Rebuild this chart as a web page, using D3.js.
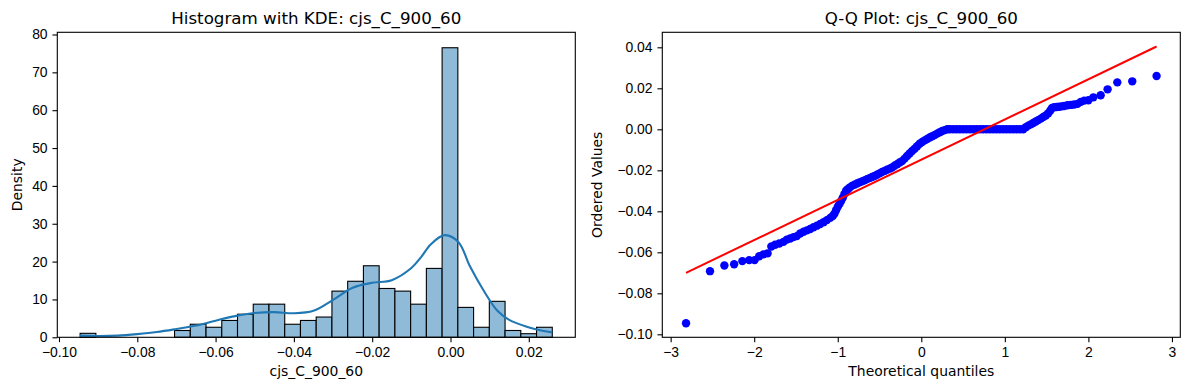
<!DOCTYPE html>
<html>
<head>
<meta charset="utf-8">
<script src="https://cdn.jsdelivr.net/npm/d3@7/dist/d3.min.js"></script>
<style>
  body { margin: 0; background: #fff; }
  svg { display: block; font-family: "DejaVu Sans", sans-serif; }
  .tick text { font-size: 13.9px; fill: #000; }
  .tick line { stroke: #000; stroke-width: 1.1px; }
</style>
</head>
<body>
<svg id="chart" width="1189" height="390"></svg>
<script>
// histogram of cjs_C_900_60: 30 equal bins between the sample min and max
const histMin = -0.0946;
const histMax = 0.0260;
const histDensity = [1.05, 0, 0, 0, 0, 0, 1.8, 3.45, 2.65, 4.45,
  6.1, 8.75, 8.75, 3.45, 4.45, 5.35, 12.2, 14.8, 18.9, 12.9,
  12.2, 8.75, 18.2, 76.5, 7.9, 2.65, 9.5, 1.8, 0.95, 2.65];

// KDE curve
const kdeX = [-0.0946, -0.090, -0.085, -0.080, -0.075, -0.070, -0.065, -0.060,
  -0.055, -0.050, -0.045, -0.040, -0.035, -0.030, -0.025, -0.020, -0.015,
  -0.010, -0.0075, -0.005, -0.0015, 0.002, 0.005, 0.0085, 0.012, 0.015,
  0.0195, 0.0235, 0.026];
const kdeY = [0.45, 0.35, 0.45, 0.85, 1.4, 2.2, 3.1, 4.4, 5.6, 6.4, 6.65, 6.35,
  7.0, 9.9, 13.1, 14.4, 15.1, 18.3, 21.2, 24.6, 27.0, 25.2, 18.7, 12.3, 7.0,
  4.6, 2.8, 1.75, 1.3];

// Q-Q plot: theoretical quantiles / ordered values
const qqX = [-2.816, -2.529, -2.357, -2.240, -2.142, -2.060, -1.995, -1.940,
  -1.890, -1.840, -1.795, -1.750, -1.700, -1.650, -1.610, -1.570, -1.530,
  -1.490, -1.450, -1.410, -1.370, -1.330, -1.290, -1.250, -1.210, -1.170,
  -1.130, -1.090, -1.060, -1.040, -1.020, -1.000, -0.980, -0.960, -0.940,
  -0.920, -0.900, -0.880, -0.860, -0.830, -0.800, -0.770, -0.740, -0.710,
  -0.680, -0.650, -0.620, -0.590, -0.560, -0.530, -0.500, -0.470, -0.440,
  -0.410, -0.380, -0.350, -0.320, -0.290, -0.260, -0.230, -0.200, -0.170,
  -0.140, -0.110, -0.080, -0.050, -0.020, 0.010, 0.040, 0.070, 0.100, 0.130,
  0.160, 0.190, 0.220, 0.250, 0.280, 0.310, 0.34, 0.38, 0.42, 0.46, 0.50,
  0.54, 0.58, 0.62, 0.66, 0.70, 0.74, 0.78, 0.82, 0.86, 0.90, 0.94, 0.98,
  1.02, 1.06, 1.10, 1.14, 1.18, 1.22, 1.25, 1.28, 1.31, 1.34, 1.37, 1.40,
  1.43, 1.46, 1.49, 1.52, 1.545, 1.565, 1.59, 1.62, 1.65, 1.68, 1.71, 1.75,
  1.79, 1.83, 1.87, 1.91, 1.95, 2.00, 2.06, 2.147, 2.23, 2.346, 2.525, 2.816];
const qqY = [-0.0946, -0.0692, -0.0664, -0.0658, -0.0643, -0.0638, -0.0638,
  -0.0619, -0.0610, -0.0605, -0.0572, -0.0563, -0.0557, -0.0549, -0.0538,
  -0.0533, -0.0526, -0.0521, -0.0508, -0.0500, -0.0493, -0.0486, -0.0478,
  -0.0470, -0.0462, -0.0453, -0.0443, -0.0432, -0.0423, -0.0412, -0.0395,
  -0.0378, -0.0364, -0.0350, -0.0334, -0.0316, -0.0300, -0.0292, -0.0285,
  -0.0276, -0.0270, -0.0264, -0.0259, -0.0254, -0.0249, -0.0243, -0.0238,
  -0.0233, -0.0228, -0.0222, -0.0215, -0.0208, -0.0203, -0.0197, -0.0192,
  -0.0186, -0.0178, -0.0170, -0.0162, -0.0155, -0.0143, -0.0130, -0.0118,
  -0.0106, -0.0095, -0.0083, -0.0070, -0.0062, -0.0054, -0.0047, -0.0040,
  -0.0034, -0.0028, -0.0021, -0.0014, -0.0008, -0.0004, 0.0000, 0, 0, 0, 0,
  0, 0, 0, 0, 0, 0, 0, 0, 0, 0, 0, 0, 0, 0, 0, 0, 0, 0, 0, 0.0010, 0.0018,
  0.0024, 0.0031, 0.0038, 0.0045, 0.0052, 0.0060, 0.0067, 0.0078, 0.0092,
  0.0104, 0.0108, 0.0109, 0.0110, 0.0112, 0.0114, 0.0117, 0.0119, 0.0121,
  0.0124, 0.0134, 0.0140, 0.0142, 0.0156, 0.0166, 0.0195, 0.0229, 0.0234,
  0.0260];

// least-squares fit line endpoints
const fitX = [-2.816, 2.816];
const fitY = [-0.0700, 0.0404];

const varName = 'cjs_C_900_60';
const histTicks = [-0.10, -0.08, -0.06, -0.04, -0.02, 0.00, 0.02];
const densityTicks = [0, 10, 20, 30, 40, 50, 60, 70, 80];
const qqXTicks = [-3, -2, -1, 0, 1, 2, 3];
const qqYTicks = [-0.10, -0.08, -0.06, -0.04, -0.02, 0.00, 0.02, 0.04];

(function() {
  'use strict';

  const svg = d3.select('#chart');
  const top = 32.3, bottom = 337.3;
  const tick = 4.86;

  // frame + axes + labels for one panel, returns the scales
  function panel(x0, x1, xDomain, yDomain, opts) {
    const x = d3.scaleLinear().domain(xDomain).range([x0, x1]);
    const y = d3.scaleLinear().domain(yDomain).range([bottom, top]);
    const g = svg.append('g');

    const plot = g.append('g').attr('class', 'plot');

    g.append('g')
      .attr('transform', `translate(0,${bottom})`)
      .call(d3.axisBottom(x).tickValues(opts.xTicks).tickFormat(d3.format(opts.xFmt))
        .tickSizeInner(tick).tickSizeOuter(0).tickPadding(4.86))
      .call(a => a.select('.domain').remove());

    g.append('g')
      .attr('transform', `translate(${x0},0)`)
      .call(d3.axisLeft(y).tickValues(opts.yTicks).tickFormat(d3.format(opts.yFmt))
        .tickSizeInner(tick).tickSizeOuter(0).tickPadding(4.86))
      .call(a => a.select('.domain').remove());

    g.append('rect')
      .attr('x', x0).attr('y', top)
      .attr('width', x1 - x0).attr('height', bottom - top)
      .attr('fill', 'none').attr('stroke', '#000').attr('stroke-width', 1.1);

    g.append('text')
      .attr('x', (x0 + x1) / 2).attr('y', 24)
      .attr('text-anchor', 'middle')
      .style('font-size', '16.7px')
      .text(opts.title);

    g.append('text')
      .attr('x', (x0 + x1) / 2).attr('y', 376)
      .attr('text-anchor', 'middle')
      .style('font-size', '13.9px')
      .text(opts.xLabel);

    g.append('text')
      .attr('transform', `translate(${opts.yLabelX},${(top + bottom) / 2}) rotate(-90)`)
      .attr('text-anchor', 'middle')
      .style('font-size', '13.9px')
      .text(opts.yLabel);

    return { x, y, plot };
  }

  // ---- left: histogram with KDE
  const left = panel(57.3, 575.3, [-0.10043, 0.03188], [0, 80.58], {
    xTicks: histTicks, xFmt: '.2f', yTicks: densityTicks, yFmt: 'd',
    title: 'Histogram with KDE: ' + varName, xLabel: varName,
    yLabel: 'Density', yLabelX: 21.5,
  });

  const binW = (histMax - histMin) / histDensity.length;
  left.plot.selectAll('rect.bar')
    .data(histDensity.map((d, i) => ({ x0: histMin + i * binW, x1: histMin + (i + 1) * binW, d })))
    .enter().filter(b => b.d > 0)
    .append('rect')
    .attr('class', 'bar')
    .attr('x', b => left.x(b.x0))
    .attr('width', b => left.x(b.x1) - left.x(b.x0))
    .attr('y', b => left.y(b.d))
    .attr('height', b => left.y(0) - left.y(b.d))
    .attr('fill', '#8fbbd9')
    .attr('stroke', '#000')
    .attr('stroke-width', 1.1);

  left.plot.append('path')
    .datum(kdeX.map((v, i) => [v, kdeY[i]]))
    .attr('fill', 'none')
    .attr('stroke', '#1f77b4')
    .attr('stroke-width', 2.1)
    .attr('d', d3.line().x(d => left.x(d[0])).y(d => left.y(d[1])).curve(d3.curveCatmullRom));

  // ---- right: Q-Q plot
  const right = panel(662.3, 1180.3, [-3.1, 3.1], [-0.10146, 0.04732], {
    xTicks: qqXTicks, xFmt: 'd', yTicks: qqYTicks, yFmt: '.2f',
    title: 'Q-Q Plot: ' + varName, xLabel: 'Theoretical quantiles',
    yLabel: 'Ordered Values', yLabelX: 601.5,
  });

  right.plot.selectAll('circle')
    .data(qqX.map((v, i) => [v, qqY[i]]))
    .enter().append('circle')
    .attr('cx', d => right.x(d[0]))
    .attr('cy', d => right.y(d[1]))
    .attr('r', 4.2)
    .attr('fill', '#0000ff');

  right.plot.append('line')
    .attr('x1', right.x(fitX[0])).attr('y1', right.y(fitY[0]))
    .attr('x2', right.x(fitX[1])).attr('y2', right.y(fitY[1]))
    .attr('stroke', '#ff0000')
    .attr('stroke-width', 2);
})();
</script>
</body>
</html>
